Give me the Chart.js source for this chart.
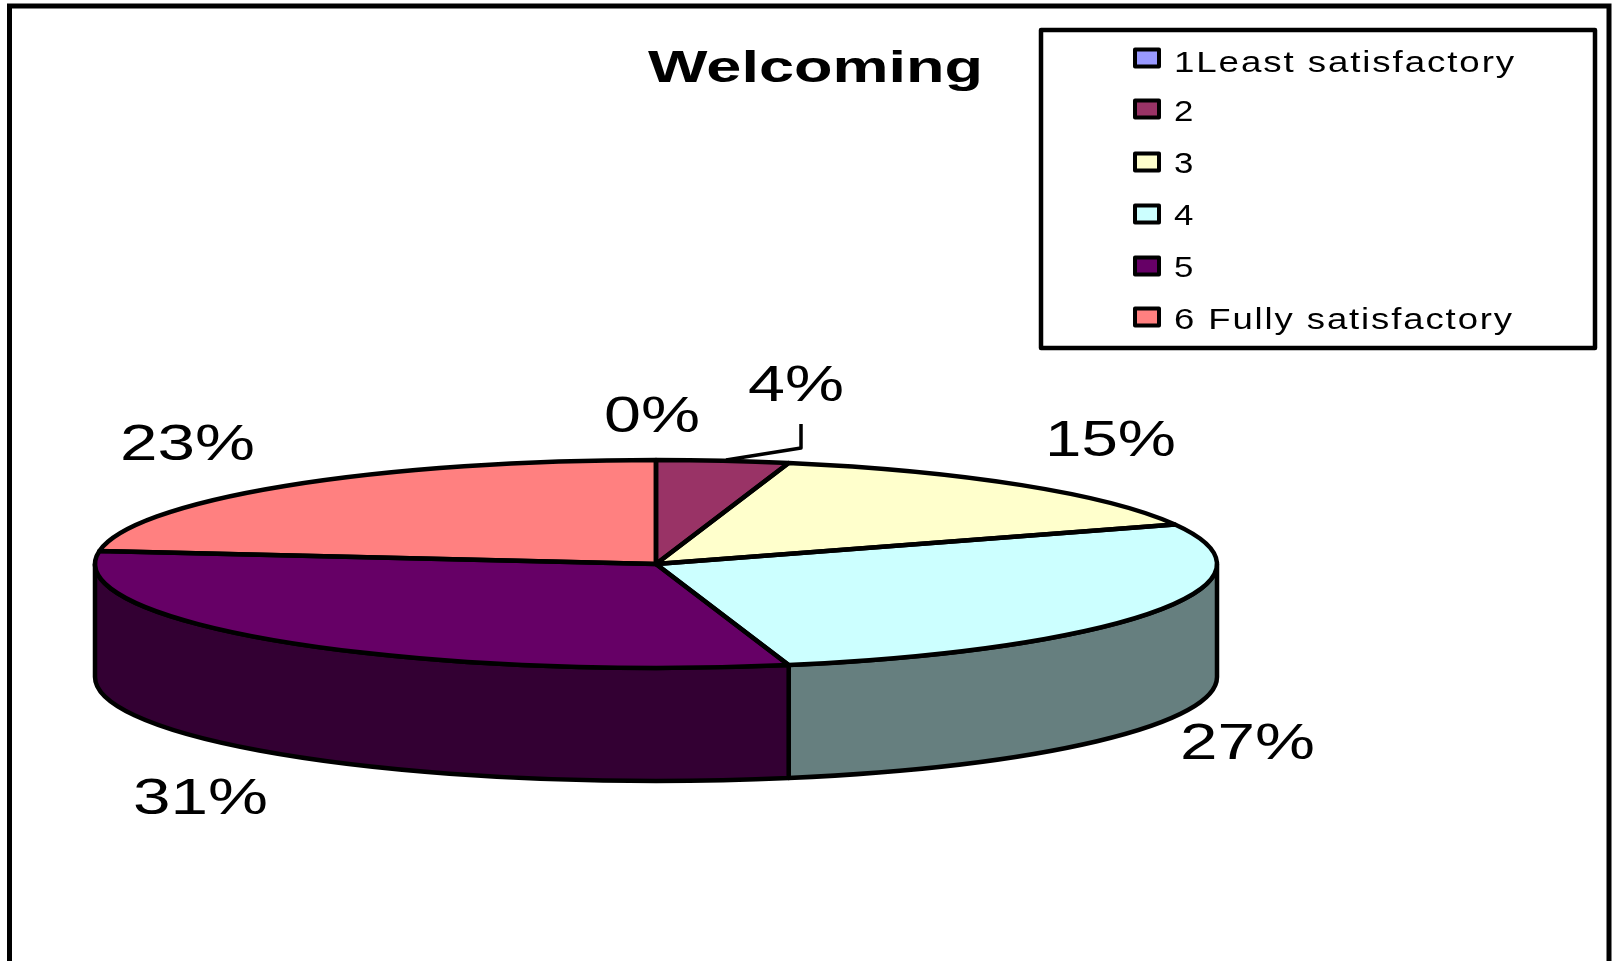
<!DOCTYPE html>
<html><head><meta charset="utf-8">
<style>html,body{margin:0;padding:0;background:#fff;overflow:hidden}canvas{display:block}</style>
<script src="https://cdn.jsdelivr.net/npm/chart.js@4"></script>
</head><body><canvas id="c" width="1614" height="961"></canvas>
<script>
const titleText = "Welcoming";
const categories = ["1Least satisfactory","2","3","4","5","6 Fully satisfactory"];
const percents = [0,3.8,15,27.4,30.8,23];
const topColors = ["#9999FF","#993366","#FFFFCC","#CCFFFF","#660066","#FF8080"];
const sideColors = ["#4D4D80","#4D1A33","#808066","#667F7F","#330033","#804040"];

const FONT = '"Liberation Sans", Arial, sans-serif';
const TILT = 104/561, DEPTH = 113, LINE = 4.5;
// label layout: left x, right x, baseline y
const labelBoxes = [[604,700,432],[748,844,401],[1045,1176,456],[1180,1315,759],[133,268,814],[120,255,460]];
const legendRows = [58,109,162,214,266,317];
const legendBases = [72,121,173,225,277,329];
const legendWidths = [342,0,0,0,0,340];

function stretched(ctx,text,x,base,px,width,bold,spacing){
  ctx.save();
  ctx.font=(bold?'bold ':'')+px+'px '+FONT;
  ctx.letterSpacing=(spacing||0)+'px';
  ctx.textBaseline='alphabetic';ctx.textAlign='left';ctx.fillStyle='#000';
  const w=ctx.measureText(text).width;
  const sx=width?width/w:1.2;
  ctx.translate(x,base);ctx.scale(sx,1);
  ctx.fillText(text,0,0);
  ctx.restore();
}
function tilt(ctx,a){ctx.translate(a.x,a.y);ctx.scale(1,TILT);ctx.translate(-a.x,-a.y);}

const pie3d = {
  id:'pie3d',
  beforeDraw(chart){
    const c=chart.ctx;c.save();
    c.fillStyle='#fff';c.fillRect(0,0,chart.width,chart.height);
    c.strokeStyle='#000';c.lineWidth=5;c.lineJoin='miter';
    c.beginPath();c.moveTo(9.5,chart.height+10);c.lineTo(9.5,6);c.lineTo(1609,6);c.lineTo(1609,chart.height+10);c.stroke();
    c.restore();
  },
  beforeDatasetsDraw(chart){
    const c=chart.ctx,arcs=chart.getDatasetMeta(0).data;
    // cylinder side, front half only
    arcs.forEach((el,i)=>{
      const a=el.getProps(['x','y','startAngle','endAngle','outerRadius'],true);
      const s=Math.max(a.startAngle,0),e=Math.min(a.endAngle,Math.PI);
      if(e<=s)return;
      c.save();tilt(c,a);
      c.beginPath();
      c.arc(a.x,a.y,a.outerRadius,s,e);
      c.arc(a.x,a.y+DEPTH/TILT,a.outerRadius,e,s,true);
      c.closePath();
      c.restore();
      c.fillStyle=sideColors[i];c.fill();
      c.strokeStyle='#000';c.lineWidth=LINE;c.lineJoin='round';c.stroke();
    });
    c.save();tilt(c,arcs[0].getProps(['x','y'],true));
  },
  afterDatasetsDraw(chart){
    const c=chart.ctx,arcs=chart.getDatasetMeta(0).data;
    c.restore();
    // slice outlines with an even pen width
    arcs.forEach(el=>{
      const a=el.getProps(['x','y','startAngle','endAngle','outerRadius','circumference'],true);
      if(a.circumference<=0)return;
      c.save();tilt(c,a);
      c.beginPath();c.moveTo(a.x,a.y);c.arc(a.x,a.y,a.outerRadius,a.startAngle,a.endAngle);c.closePath();
      c.restore();
      c.strokeStyle='#000';c.lineWidth=LINE;c.lineJoin='round';c.stroke();
    });
    // leader line of the 4% label
    c.save();c.strokeStyle='#000';c.lineWidth=3.5;
    c.beginPath();c.moveTo(726,460);c.lineTo(801,448);c.lineTo(801,424);c.stroke();c.restore();
    // percentage labels
    const total=percents.reduce((p,q)=>p+q,0);
    percents.forEach((v,i)=>{
      const b=labelBoxes[i];
      stretched(c,Math.round(v/total*100)+'%',b[0],b[2],50,b[1]-b[0]);
    });
    // title
    stretched(c,titleText,648,82,45,335,true);
    // legend
    c.save();c.fillStyle='#fff';c.strokeStyle='#000';c.lineWidth=4.5;
    c.fillRect(1041,30,554,318);c.strokeRect(1041,30,554,318);
    categories.forEach((lab,i)=>{
      const y=legendRows[i];
      c.fillStyle=topColors[i];c.strokeStyle='#000';c.lineWidth=4;
      c.fillRect(1135,y-8.5,24,17);c.strokeRect(1135,y-8.5,24,17);
      const w=legendWidths[i];
      stretched(c,lab,1174,legendBases[i],29,w||undefined,false,w?1.5:0);
    });
    c.restore();
  }
};

new Chart(document.getElementById('c'),{
  type:'pie',
  data:{labels:categories,datasets:[{data:percents,backgroundColor:topColors,borderWidth:0,clip:false}]},
  options:{
    responsive:false,animation:false,
    radius:561,
    layout:{padding:{left:0,right:302,top:167,bottom:0}},
    plugins:{legend:{display:false},title:{display:false},tooltip:{enabled:false}}
  },
  plugins:[pie3d]
});
</script></body></html>
